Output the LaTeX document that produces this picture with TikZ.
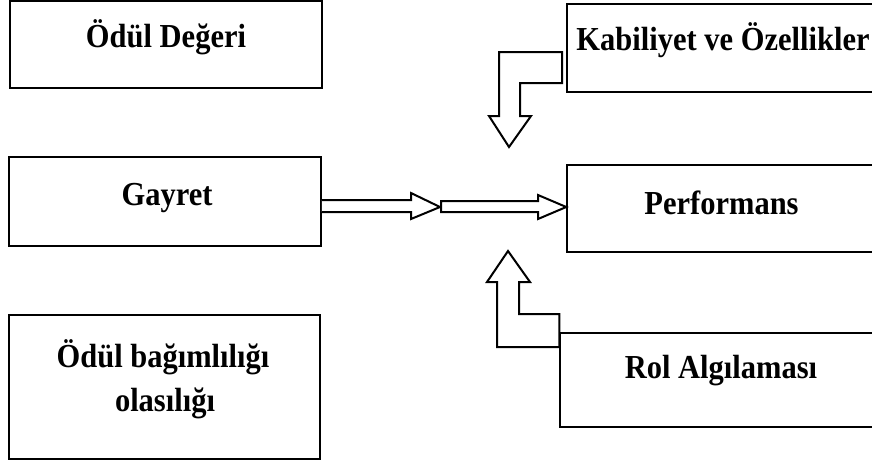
\documentclass[tikz,border=0pt]{standalone}
\usepackage{fontspec}
\setmainfont{Liberation Serif}
\newcommand{\tallbold}[1]{\scalebox{1}[1.1]{#1}}
\begin{document}
\begin{tikzpicture}[x=1pt,y=-1pt,
  box/.style={draw,line width=1.5pt,rectangle,inner sep=0pt},
  lbl/.style={font=\bfseries\fontsize{30.5}{34}\selectfont,anchor=base,inner sep=0pt},
  blockarrow/.style={draw,line width=2pt,fill=white,line join=miter}]
\useasboundingbox (0,0) rectangle (872,461);
\clip (0,0) rectangle (872,461);
% boxes
\node[box,minimum width=312pt,minimum height=87pt] (odul) at (166,44.5) {};
\node[box,minimum width=312pt,minimum height=89pt] (gayret) at (165,201.5) {};
\node[box,minimum width=311pt,minimum height=144pt] (bagim) at (164.5,387) {};
\node[box,minimum width=313pt,minimum height=88pt] (kabil) at (723.5,48) {};
\node[box,minimum width=313pt,minimum height=87pt] (perf) at (723.5,208.5) {};
\node[box,minimum width=320pt,minimum height=94pt] (rol) at (720,380) {};
% labels
\node[lbl] (t1) at (166,47) {\tallbold{Ödül Değeri}};
\node[lbl] (t2) at (723,50) {\tallbold{Kabiliyet ve Özellikler}};
\node[lbl] (t3) at (167,205) {\tallbold{Gayret}};
\node[lbl] (t4) at (721.5,214) {\tallbold{Performans}};
\node[lbl] (t5) at (721,378) {\tallbold{Rol Algılaması}};
\node[lbl] (t6) at (163,367) {\tallbold{Ödül bağımlılığı}};
\node[lbl] (t7) at (165,411) {\tallbold{olasılığı}};
% block arrows
\coordinate (a1a) at (gayret.east |- 0,200);
\coordinate (a1b) at (gayret.east |- 0,212);
\coordinate (a1t) at (440,207);
\coordinate (a2t) at (perf.west |- 0,207);
\draw[blockarrow] (a1a) -- (411,200) -- (411,193) -- (a1t) -- (411,219) -- (411,212) -- (a1b);
\draw[blockarrow] (441,201) -- (538,201) -- (538,195) -- (a2t) -- (538,219) -- (538,212) -- (441,212) -- cycle;
\coordinate (dtip) at (509,147);
\draw[blockarrow] (562,52) -- (499,52) -- (499,116) -- (489,116) -- (dtip) -- (531,116) -- (520,116) -- (520,83) -- (562,83) -- cycle;
\coordinate (utip) at (508,251);
\draw[blockarrow] (rol.west |- 0,347) -- (497,347) -- (497,282) -- (487,282) -- (utip) -- (530,282) -- (519,282) -- (519,314) -- (rol.west |- 0,314) -- cycle;
\end{tikzpicture}
\end{document}
